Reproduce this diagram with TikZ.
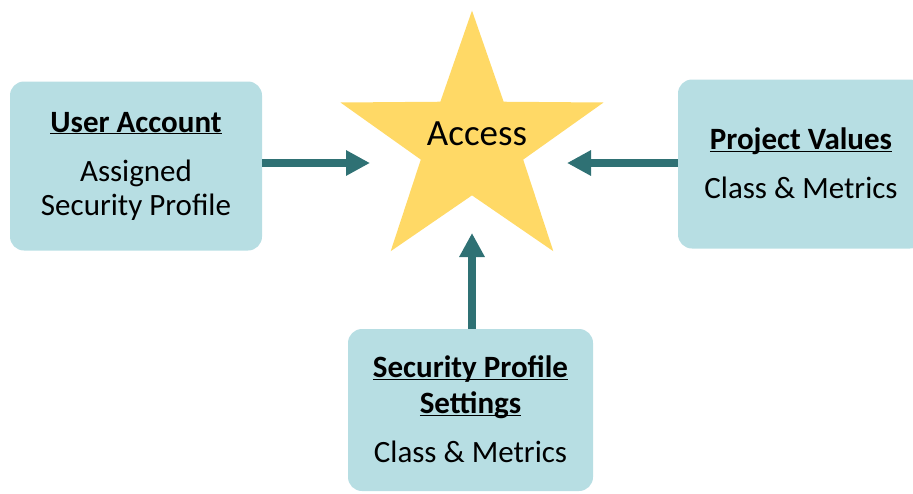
\documentclass[tikz,border=0pt]{standalone}
\usepackage{fontspec}
\setmainfont{Carlito}
\usetikzlibrary{shapes.geometric,arrows.meta}
\definecolor{boxblue}{HTML}{B7DEE3}
\definecolor{arrowteal}{HTML}{2F7174}
\definecolor{stargold}{HTML}{FFD966}
\newcommand{\boxtitle}[1]{\textbf{\rule{0pt}{0.66em}\underline{\smash{#1}}}}

\begin{document}
\begin{tikzpicture}[x=1pt,y=-1pt,
	box/.style={rectangle,rounded corners=14pt,fill=boxblue,align=center,font=\fontsize{31}{34}\selectfont},
	flow/.style={line width=8pt,draw=arrowteal,-{Triangle[length=24pt,width=24pt]}}]
	\useasboundingbox (0,0) rectangle (913,493);

	%star
	\node[star,star points=5,star point ratio=2.57,fill=stargold,minimum size=266,xscale=1.04,inner sep=0pt] (access) at (472,143.6) {};
	\node[font=\fontsize{37}{40}\selectfont,anchor=base] (accesslabel) at (477,145) {Access};

	%boxes
	\node[box,minimum width=252,minimum height=169] (user) at (136,166) {\boxtitle{User Account}\\[15pt]Assigned\\Security Profile}; %left box
	\node[box,minimum width=246,minimum height=169] (values) at (801,164) {\boxtitle{Project Values}\\[15pt]Class \& Metrics}; %right box
	\node[box,minimum width=245,minimum height=162] (settings) at (470.5,410) {\boxtitle{Security Profile}\\[2pt]\boxtitle{Settings}\\[15pt]Class \& Metrics}; %bottom box

	%arrows
	\coordinate (userend) at (370,163);
	\coordinate (valuesend) at (567,163);
	\coordinate (settingsend) at (472,233);
	\draw[flow] (user.east |- userend) -- (userend); %user arrow
	\draw[flow] (values.west |- valuesend) -- (valuesend); %values arrow
	\draw[flow] (settings.north -| settingsend) -- (settingsend); %settings arrow
\end{tikzpicture}
\end{document}
